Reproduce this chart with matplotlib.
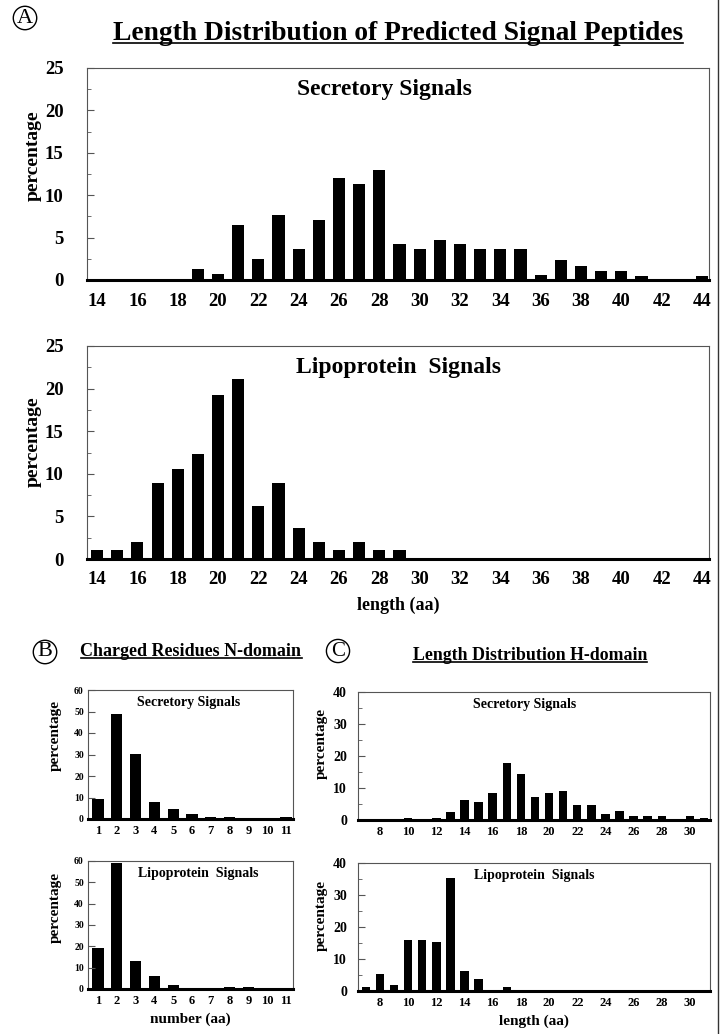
import matplotlib
matplotlib.use("Agg")
import matplotlib.pyplot as plt
from matplotlib.lines import Line2D
from matplotlib.ticker import MultipleLocator

plt.rcParams['font.family'] = ['Liberation Serif', 'DejaVu Serif']
plt.rcParams['font.weight'] = 'bold'

# panel A: total signal peptide length
len_aa = list(range(14, 45))
sec_len = [0, 0, 0, 0, 0, 1.25, 0.65, 6.5, 2.45, 7.7, 3.65, 7.1, 12.0, 11.3, 13.0,
           4.25, 3.6, 4.75, 4.25, 3.6, 3.6, 3.6, 0.55, 2.3, 1.7, 1.1, 1.1, 0.5,
           0, 0, 0.5]
lip_len = [1.1, 1.1, 2.0, 8.9, 10.6, 12.3, 19.3, 21.1, 6.2, 8.9, 3.6, 2.0, 1.1,
           2.0, 1.05, 1.1] + [0] * 15

# panel B: charged residues in N-domain
n_charged = list(range(1, 12))
sec_n = [9.1, 48.8, 30.2, 8.1, 4.5, 2.2, 0.9, 0.9, 0, 0, 0.9]
lip_n = [19.3, 59.0, 13.1, 6.1, 1.9, 0, 0, 0.9, 0.9, 0, 0]

# panel C: H-domain length
h_len = list(range(7, 32))
sec_h = [0, 0, 0, 0.7, 0, 0.7, 2.5, 6.1, 5.5, 8.3, 17.9, 14.4, 7.2, 8.3, 9.0,
         4.8, 4.8, 1.8, 2.9, 1.1, 1.1, 1.1, 0, 1.1, 0.5]
lip_h = [1.1, 5.4, 2.0, 15.9, 15.9, 15.2, 35.3, 6.2, 3.7, 0, 1.1] + [0] * 14

W, H = 721, 1034
fig = plt.figure(figsize=(W / 100, H / 100), dpi=100)


def box(l, t, r, b):
    return [l / W, 1 - b / H, (r - l) / W, (b - t) / H]


def style(ax, x, y, xlim, ylim, xticks, ymajor, yminor, title, tx, tsize,
          xlsize, ylsize, ypad, xpad, labsize, labx, laby):
    ax.bar(x, y, width=0.6, color='black')
    ax.set_xlim(*xlim)
    ax.set_ylim(*ylim)
    ax.set_xticks(xticks)
    ax.yaxis.set_major_locator(MultipleLocator(ymajor))
    if yminor:
        ax.yaxis.set_minor_locator(MultipleLocator(yminor))
    ax.tick_params(axis='x', length=0, labelsize=xlsize, pad=xpad)
    ax.tick_params(axis='y', which='both', direction='in', labelsize=ylsize,
                   color='#555555', pad=ypad)
    ax.tick_params(axis='y', which='major', length=5)
    ax.tick_params(axis='y', which='minor', length=3)
    for s in ['left', 'top', 'right']:
        ax.spines[s].set_color('#555555')
        ax.spines[s].set_linewidth(0.8)
    ax.spines['bottom'].set_linewidth(2.2)
    ax.set_ylabel('percentage', fontsize=labsize, fontweight='bold')
    ax.yaxis.set_label_coords(labx, laby)
    ax.text(tx, 0.95, title, transform=ax.transAxes, ha='center', va='top',
            fontsize=tsize, fontweight='bold')


ax1 = fig.add_axes(box(87, 68, 709, 280))
style(ax1, len_aa, sec_len, (13.5, 44.35), (0, 25), range(14, 45, 2), 5, 2.5,
      'Secretory Signals', 0.478, 17, 13.5, 13.5, 17, 9, 14, -0.072, 0.585)
ax2 = fig.add_axes(box(87, 346, 709, 559))
style(ax2, len_aa, lip_len, (13.5, 44.35), (0, 25), range(14, 45, 2), 5, 2.5,
      'Lipoprotein  Signals', 0.5, 17, 13.5, 13.5, 17, 9, 14, -0.072, 0.55)
ax2.set_xlabel('length (aa)', fontsize=13, fontweight='bold', labelpad=6)

ax3 = fig.add_axes(box(88, 690, 293, 819))
style(ax3, n_charged, sec_n, (0.47, 11.37), (0, 60), n_charged, 10, None,
      'Secretory Signals', 0.49, 10, 9, 7, 3, 4, 11, -0.127, 0.65)
ax4 = fig.add_axes(box(88, 861, 293, 989))
style(ax4, n_charged, lip_n, (0.47, 11.37), (0, 60), n_charged, 10, None,
      'Lipoprotein  Signals', 0.54, 10, 9, 7, 3, 4, 11, -0.127, 0.64)
ax4.set_xlabel('number (aa)', fontsize=11, fontweight='bold', labelpad=4)

ax5 = fig.add_axes(box(358, 692, 710, 820))
style(ax5, h_len, sec_h, (6.44, 31.42), (0, 40), range(8, 31, 2), 10, 5,
      'Secretory Signals', 0.474, 10, 9, 10, 8, 4, 11, -0.085, 0.6)
ax6 = fig.add_axes(box(358, 863, 710, 991))
style(ax6, h_len, lip_h, (6.44, 31.42), (0, 40), range(8, 31, 2), 10, 5,
      'Lipoprotein  Signals', 0.5, 10, 9, 10, 8, 4, 11, -0.085, 0.59)
ax6.set_xlabel('length (aa)', fontsize=11, fontweight='bold', labelpad=4)

# headers, underlined
headers = [
    ('Length Distribution of Predicted Signal Peptides', 398, 33, 19.8),
    ('Charged Residues N-domain', 191, 652, 13),
    ('Length Distribution H-domain', 530, 656, 12.9),
]
htexts = []
for s, x, y, fs in headers:
    htexts.append(fig.text(x / W, 1 - y / H, s, ha='center', va='center',
                           fontsize=fs, fontweight='bold'))

for s, x, y, fs in [('A', 25, 18, 16), ('B', 45, 652, 16), ('C', 338, 651, 15)]:
    fig.text(x / W, 1 - y / H, s, ha='center', va='center', fontsize=fs,
             fontweight='normal',
             bbox=dict(boxstyle='circle,pad=0.1', fc='none', ec='black', lw=1))

fig.canvas.draw()
r = fig.canvas.get_renderer()
for t in htexts:
    bb = t.get_window_extent(r).transformed(fig.transFigure.inverted())
    fig.add_artist(Line2D([bb.x0, bb.x1], [bb.y0 + 0.002, bb.y0 + 0.002],
                          transform=fig.transFigure, color='black', lw=1.2))

# page edge on the right
fig.add_artist(Line2D([718 / W, 718 / W], [0, 1], transform=fig.transFigure,
                      color='#333333', lw=1))

fig.savefig('out.png', dpi=100)
